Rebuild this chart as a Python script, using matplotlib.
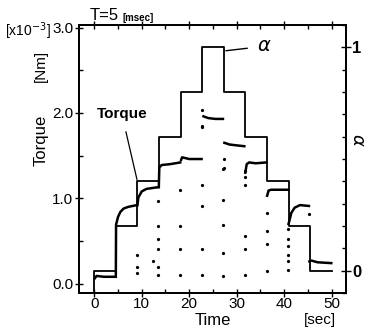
import matplotlib
matplotlib.use("Agg")
import matplotlib.pyplot as plt
from matplotlib.ticker import MultipleLocator

plt.rcParams["font.family"] = ["Liberation Sans", "DejaVu Sans"]

# ------------------------------------------
# DATA
# ------------------------------------------
# step input alpha: switching times [sec] and levels
alpha_t = [0.0, 0.0, 4.55, 9.1, 13.6, 18.2, 22.7, 27.3, 31.8, 36.4, 40.9, 45.5, 50.0]
alpha_v = [-0.1, 0.0, 0.2, 0.4, 0.6, 0.8, 1.0, 0.8, 0.6, 0.4, 0.2, 0.0, 0.0]

# measured torque [x10^-3 Nm], one list per step segment
torque_segments = [
    ([0.1, 0.5, 2.0, 4.5], [0.06, 0.09, 0.08, 0.08]),
    ([4.55, 4.6, 5.0, 5.5, 6.2, 7.2, 9.0], [0.08, 0.69, 0.78, 0.84, 0.88, 0.90, 0.92]),
    ([9.1, 9.3, 10.0, 11.0, 13.4], [0.92, 1.01, 1.08, 1.11, 1.13]),
    ([13.6, 13.7, 14.2, 16.0, 18.1], [1.13, 1.36, 1.39, 1.40, 1.42]),
    ([18.3, 18.5, 20.0, 22.6], [1.45, 1.48, 1.46, 1.46]),
    ([23.0, 24.0, 25.5, 27.1], [1.96, 1.94, 1.93, 1.93]),
    ([27.4, 28.5, 30.0, 31.6], [1.65, 1.63, 1.62, 1.61]),
    ([31.8, 32.1, 32.6, 34.0, 36.2], [1.30, 1.40, 1.42, 1.41, 1.42]),
    ([36.4, 36.7, 37.2, 38.5, 40.8], [1.03, 1.09, 1.10, 1.10, 1.10]),
    ([40.9, 41.1, 41.5, 42.2, 43.3, 45.2], [0.70, 0.74, 0.83, 0.89, 0.92, 0.91]),
    ([45.3, 45.7, 47.0, 49.9], [0.26, 0.27, 0.25, 0.24]),
]

# stray samples at the switching instants
dots_t = [9.0, 9.0, 9.0, 12.4, 13.5, 13.5, 13.5, 13.5, 13.5, 13.5,
          18.1, 18.1, 18.1, 18.1, 22.6, 22.6, 22.6, 22.6, 22.7, 22.7, 22.6,
          27.2, 27.2, 27.2, 27.2, 27.3, 27.3, 27.2,
          31.7, 31.7, 31.7, 31.7, 31.7, 31.7,
          36.3, 36.3, 36.3, 36.3,
          40.8, 40.8, 40.8, 40.8, 40.8, 40.8, 45.2]
dots_v = [0.34, 0.20, 0.12, 0.27, 0.97, 0.67, 0.52, 0.40, 0.20, 0.10,
          1.10, 0.67, 0.40, 0.10, 1.15, 0.91, 0.40, 0.10, 2.03, 1.83, 1.85,
          1.34, 0.69, 0.36, 0.09, 1.46, 1.36, 0.98,
          1.32, 1.15, 0.56, 0.40, 0.10, 1.25,
          0.83, 0.46, 0.15, 0.62,
          0.64, 0.52, 0.44, 0.34, 0.26, 0.16, 0.81]

# ------------------------------------------
# FIGURE
# ------------------------------------------
fig = plt.figure(figsize=(3.68, 3.32), dpi=100)
ax = fig.add_axes([0.2147, 0.1175, 0.7255, 0.807])
ax2 = ax.twinx()

ax2.step(alpha_t, alpha_v, where="post", color="black", lw=1.3)
for t, v in torque_segments:
    ax.plot(t, v, color="black", lw=1.8)
ax.plot(dots_t, dots_v, ls="none", marker="o", ms=1.3, color="black")

ax.set_xlim(-3.2, 53)
ax.set_ylim(-0.11, 3.03)
ax2.set_ylim(-0.1, 1.1)

ax.set_xticks([0, 10, 20, 30, 40, 50])
ax.xaxis.set_minor_locator(MultipleLocator(5))
ax.set_yticks([0.0, 1.0, 2.0, 3.0])
ax.set_yticklabels(["0.0", "1.0", "2.0", "3.0"])
ax.yaxis.set_minor_locator(MultipleLocator(0.5))
ax2.set_yticks([0, 1])
ax2.yaxis.set_minor_locator(MultipleLocator(0.1))

ax.tick_params(axis="both", which="major", direction="inout", length=6, width=1,
               labelsize=11, pad=1, top=True)
ax.tick_params(axis="x", which="major", pad=0)
ax.tick_params(axis="both", which="minor", direction="in", length=3, width=1, top=True)
ax2.tick_params(axis="y", which="major", direction="inout", length=7, width=1,
                labelsize=12, pad=1)
ax2.tick_params(axis="y", which="minor", direction="in", length=3, width=1)
for lbl in ax2.get_yticklabels():
    lbl.set_fontweight("bold")

for a in (ax, ax2):
    for s in a.spines.values():
        s.set_linewidth(1.3)

# labels
ax.set_xlabel("Time", fontsize=12, labelpad=1)
fig.text(0.870, 0.037, "[sec]", fontsize=11, ha="center", va="center")
fig.text(0.111, 0.578, "Torque", fontsize=12, rotation=90, ha="center", va="center")
fig.text(0.112, 0.80, "[Nm]", fontsize=11, rotation=90, ha="center", va="center")
fig.text(0.138, 0.905, r"[x10$^{-3}$]", fontsize=10, ha="right", va="center")
fig.text(0.243, 0.953, "T=5", fontsize=12, ha="left", va="center")
fig.text(0.333, 0.946, "[msec]", fontsize=7, ha="left", va="center", fontweight="bold")
fig.text(0.972, 0.578, r"$\alpha$", fontsize=13, rotation=-90, ha="center", va="center")

# annotations
ax.annotate("Torque", xy=(9.0, 1.22), xytext=(5.8, 1.99), fontsize=11,
            fontweight="bold", ha="center", va="center",
            arrowprops=dict(arrowstyle="-", color="black", lw=0.9, shrinkA=6, shrinkB=0))
ax2.annotate(r"$\alpha$", xy=(27.7, 0.985), xytext=(35.8, 1.005), fontsize=14,
             ha="center", va="center",
             arrowprops=dict(arrowstyle="-", color="black", lw=1.0, shrinkA=5, shrinkB=0))

fig.savefig("out.png", dpi=100)
